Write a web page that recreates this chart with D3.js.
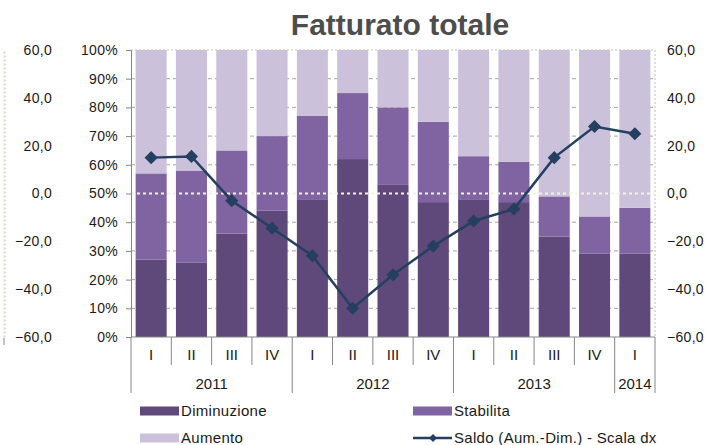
<!DOCTYPE html>
<html>
<head>
<meta charset="utf-8">
<script src="https://cdn.jsdelivr.net/npm/d3@7"></script>
<style>
  html, body { margin: 0; padding: 0; background: #fff; }
  svg { display: block; font-family: "Liberation Sans", Arial, sans-serif; }
</style>
</head>
<body>
<svg id="chart" width="708" height="445"></svg>
<script>
const quarters = ["I", "II", "III", "IV", "I", "II", "III", "IV", "I", "II", "III", "IV", "I"];
const yearLabels = ["2011", "2012", "2013", "2014"];
const yearSpans = [4, 4, 4, 1];
const diminuzione = [27, 26, 36, 44, 48, 62, 53, 47, 48, 47, 35, 29, 29];
const stabilita = [30, 32, 29, 26, 29, 23, 27, 28, 15, 14, 14, 13, 16];
const aumento = [43, 42, 35, 30, 23, 15, 20, 25, 37, 39, 51, 58, 55];
const saldo = [15, 15.5, -3, -14.5, -26, -48, -34, -22, -11.5, -6.5, 15, 28, 25];
const pctTicks = [0, 10, 20, 30, 40, 50, 60, 70, 80, 90, 100];
const saldoTicks = [-60, -40, -20, 0, 20, 40, 60];

const colors = { dim: "#5f497a", stab: "#8064a2", aum: "#ccc1da", line: "#243f60" };

const svg = d3.select("#chart");
const plot = { left: 131, right: 655, top: 50, bottom: 337 };

const x = d3.scaleBand(d3.range(quarters.length), [plot.left, plot.right])
    .paddingInner(0.23).paddingOuter(0.115);
const step = (plot.right - plot.left) / quarters.length;
const yPct = d3.scaleLinear([0, 100], [plot.bottom, plot.top]);
const ySaldo = d3.scaleLinear([-60, 60], [plot.bottom, plot.top]);

const fmtSaldo = d => d3.format(".1f")(d).replace(".", ",");
const textColor = "#1a1a1a";

// title
svg.append("text")
    .attr("x", 400).attr("y", 35)
    .attr("text-anchor", "middle")
    .attr("font-size", 30).attr("font-weight", "bold")
    .attr("fill", "#4d4d4d")
    .text("Fatturato totale");

// gridlines
svg.append("g").selectAll("line")
    .data(pctTicks.filter(d => d > 0 && d < 100 && d !== 50))
    .join("line")
    .attr("x1", plot.left).attr("x2", plot.right)
    .attr("y1", d => yPct(d)).attr("y2", d => yPct(d))
    .attr("stroke", "#a6a6a6").attr("stroke-dasharray", "4,3");

// plot border (top and right, dotted)
svg.append("line")
    .attr("x1", plot.left).attr("x2", plot.right)
    .attr("y1", plot.top).attr("y2", plot.top)
    .attr("stroke", "#d8d6c4").attr("stroke-width", 1.5).attr("stroke-dasharray", "2,2");
svg.append("line")
    .attr("x1", plot.right).attr("x2", plot.right)
    .attr("y1", plot.top).attr("y2", plot.bottom)
    .attr("stroke", "#d8d6c4").attr("stroke-width", 1.5).attr("stroke-dasharray", "2,2");

// stacked bars
const series = [
    { key: "dim", values: diminuzione },
    { key: "stab", values: stabilita },
    { key: "aum", values: aumento }
];
const baseOf = (si, i) => d3.sum(series.slice(0, si), s => s.values[i]);
const bars = svg.append("g");
series.forEach((s, si) => {
    bars.selectAll(`rect.${s.key}`)
        .data(s.values)
        .join("rect")
        .attr("class", s.key)
        .attr("x", (d, i) => x(i))
        .attr("width", x.bandwidth())
        .attr("y", (d, i) => yPct(baseOf(si, i) + d))
        .attr("height", (d, i) => yPct(baseOf(si, i)) - yPct(baseOf(si, i) + d))
        .attr("fill", colors[s.key]);
});

// zero line of secondary axis
svg.append("line")
    .attr("x1", plot.left).attr("x2", plot.right)
    .attr("y1", ySaldo(0)).attr("y2", ySaldo(0))
    .attr("stroke", "#f3f1e4").attr("stroke-width", 2).attr("stroke-dasharray", "3,3");

// left percent axis
const pctAxis = svg.append("g")
    .attr("transform", `translate(${plot.left},0)`)
    .call(d3.axisLeft(yPct).tickValues(pctTicks).tickFormat(d => d + "%").tickSize(5).tickPadding(8));
pctAxis.select(".domain").attr("stroke", "#868686");
pctAxis.selectAll(".tick line").attr("stroke", "#868686");
pctAxis.selectAll("text").attr("font-size", 14).attr("fill", textColor)
    .attr("letter-spacing", 0.3)
    .attr("font-family", "Liberation Sans, Arial, sans-serif");

// far left saldo axis (cut off)
const farAxis = svg.append("g")
    .attr("transform", "translate(4,0)")
    .call(d3.axisRight(ySaldo).tickValues(saldoTicks).tickFormat(fmtSaldo).tickSize(0).tickPadding(0));
farAxis.select(".domain").attr("stroke", "#d8d6c4").attr("stroke-width", 2).attr("stroke-dasharray", "2,2");
farAxis.selectAll("text").attr("font-size", 14).attr("fill", textColor)
    .attr("letter-spacing", 0.3)
    .attr("text-anchor", "end").attr("x", 48)
    .attr("font-family", "Liberation Sans, Arial, sans-serif");
svg.append("line").attr("x1", 4).attr("x2", 4).attr("y1", plot.bottom + 1).attr("y2", plot.bottom + 8)
    .attr("stroke", "#868686");

// right saldo axis
const rightAxis = svg.append("g")
    .attr("transform", `translate(${plot.right},0)`)
    .call(d3.axisRight(ySaldo).tickValues(saldoTicks).tickFormat(fmtSaldo).tickSize(0).tickPadding(12));
rightAxis.select(".domain").remove();
rightAxis.selectAll("text").attr("font-size", 14).attr("fill", textColor)
    .attr("letter-spacing", 0.3)
    .attr("font-family", "Liberation Sans, Arial, sans-serif");

// category axis
const catAxis = svg.append("g");
catAxis.append("line")
    .attr("x1", plot.left).attr("x2", plot.right)
    .attr("y1", plot.bottom).attr("y2", plot.bottom)
    .attr("stroke", "#868686");
const yearStarts = yearSpans.map((n, i) => d3.sum(yearSpans.slice(0, i)));
const yearBoundaries = new Set([...yearStarts, quarters.length]);
catAxis.selectAll("line.sep")
    .data(d3.range(quarters.length + 1))
    .join("line")
    .attr("class", "sep")
    .attr("x1", i => plot.left + i * step).attr("x2", i => plot.left + i * step)
    .attr("y1", plot.bottom).attr("y2", i => yearBoundaries.has(i) ? 393 : 365)
    .attr("stroke", "#868686");
catAxis.selectAll("text.q")
    .data(quarters)
    .join("text")
    .attr("class", "q")
    .attr("x", (d, i) => x(i) + x.bandwidth() / 2)
    .attr("y", 360)
    .attr("text-anchor", "middle")
    .attr("font-size", 15).attr("fill", textColor)
    .text(d => d);
catAxis.selectAll("text.yr")
    .data(yearLabels)
    .join("text")
    .attr("class", "yr")
    .attr("x", (d, i) => plot.left + (yearStarts[i] + yearSpans[i] / 2) * step)
    .attr("y", 389)
    .attr("text-anchor", "middle")
    .attr("font-size", 15).attr("fill", textColor)
    .text(d => d);

// saldo line
const diamond = d3.symbol().type(d3.symbolDiamond2).size(110);
svg.append("path")
    .datum(saldo)
    .attr("d", d3.line().x((d, i) => x(i) + x.bandwidth() / 2).y(d => ySaldo(d)))
    .attr("fill", "none").attr("stroke", colors.line).attr("stroke-width", 2.5);
svg.append("g").selectAll("path")
    .data(saldo)
    .join("path")
    .attr("transform", (d, i) => `translate(${x(i) + x.bandwidth() / 2},${ySaldo(d)})`)
    .attr("d", diamond)
    .attr("fill", colors.line);

// legend
const legendItems = [
    { label: "Diminuzione", type: "rect", color: colors.dim, x: 140, y: 411 },
    { label: "Stabilita", type: "rect", color: colors.stab, x: 413, y: 411 },
    { label: "Aumento", type: "rect", color: colors.aum, x: 140, y: 438 },
    { label: "Saldo (Aum.-Dim.) - Scala dx", type: "line", color: colors.line, x: 413, y: 438 }
];
const legend = svg.append("g");
legendItems.forEach(item => {
    const g = legend.append("g").attr("transform", `translate(${item.x},${item.y})`);
    if (item.type === "rect") {
        g.append("rect").attr("x", 0).attr("y", -4.5).attr("width", 39).attr("height", 9).attr("fill", item.color);
    } else {
        g.append("line").attr("x1", 0).attr("x2", 39).attr("y1", 0).attr("y2", 0)
            .attr("stroke", item.color).attr("stroke-width", 2.5);
        g.append("path").attr("transform", "translate(20,0)")
            .attr("d", d3.symbol().type(d3.symbolDiamond2).size(40)).attr("fill", item.color);
    }
    g.append("text").attr("x", 41).attr("y", 5)
        .attr("font-size", 15).attr("letter-spacing", 0.3).attr("fill", textColor)
        .text(item.label);
});
</script>
</body>
</html>
